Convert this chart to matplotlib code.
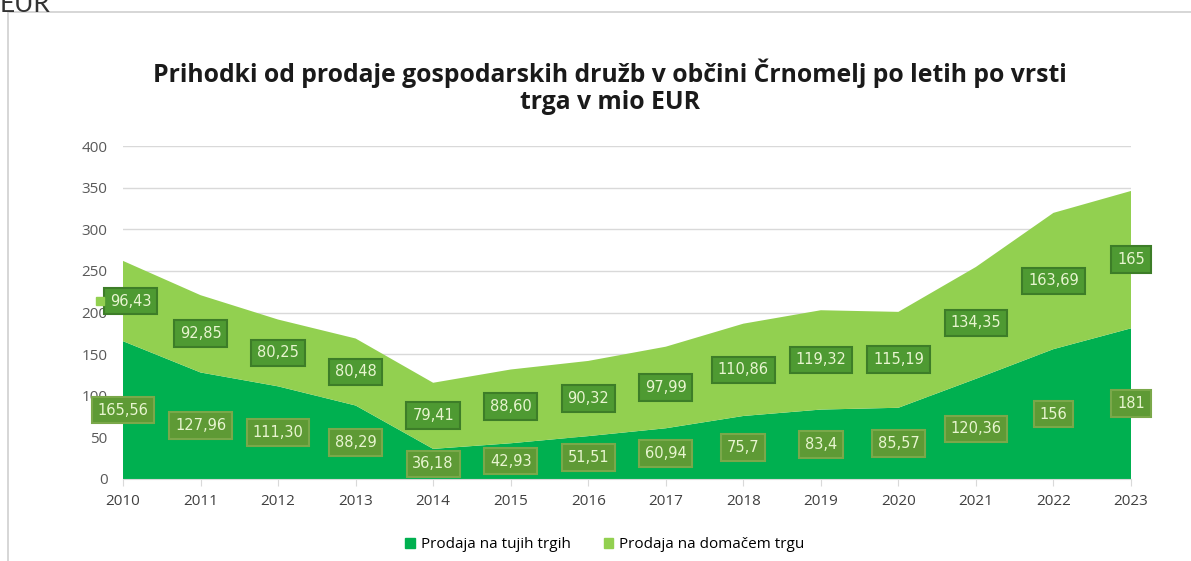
import matplotlib
matplotlib.use("Agg")
import matplotlib.pyplot as plt
import numpy as np
from matplotlib.lines import Line2D
from matplotlib.patches import Patch

years = [2010, 2011, 2012, 2013, 2014, 2015, 2016, 2017, 2018, 2019, 2020, 2021, 2022, 2023]
foreign = [165.56, 127.96, 111.30, 88.29, 36.18, 42.93, 51.51, 60.94, 75.7, 83.4, 85.57, 120.36, 156, 181]
domestic = [96.43, 92.85, 80.25, 80.48, 79.41, 88.60, 90.32, 97.99, 110.86, 119.32, 115.19, 134.35, 163.69, 165]
foreign_labels = ["165,56", "127,96", "111,30", "88,29", "36,18", "42,93", "51,51", "60,94",
                  "75,7", "83,4", "85,57", "120,36", "156", "181"]
domestic_labels = ["96,43", "92,85", "80,25", "80,48", "79,41", "88,60", "90,32", "97,99",
                   "110,86", "119,32", "115,19", "134,35", "163,69", "165"]
series_names = ["Prodaja na tujih trgih", "Prodaja na domačem trgu"]
title = "Prihodki od prodaje gospodarskih družb v občini Črnomelj po letih po vrsti\ntrga v mio EUR"

dark = "#00b050"
light = "#92d050"
FONT = "Open Sans"

fig = plt.figure(figsize=(11.91, 5.61), dpi=100)
fig.patch.set_facecolor("white")

# screenshot frame and cut-off text
fig.add_artist(Line2D([8/1191, 8/1191], [0, 1 - 12/561], color="#d0d0d0", lw=1.2))
fig.add_artist(Line2D([8/1191, 1], [1 - 12/561, 1 - 12/561], color="#d0d0d0", lw=1.2))
fig.text(0.0, 1 - 4/561, "EUR", fontsize=19, color="#333333", family="Lato", va="center", ha="left")

ax = fig.add_axes([123/1191, 1 - 479/561, (1131 - 123)/1191, (479 - 146)/561])
x = np.array(years)
f = np.array(foreign)
d = np.array(domestic)
ax.stackplot(x, f, d, colors=[dark, light], linewidth=0)

ax.set_xlim(2010, 2023)
ax.set_ylim(0, 400)
ax.set_yticks(np.arange(0, 401, 50))
ax.set_xticks(years)
ax.set_xticklabels([str(y) for y in years])
ax.grid(axis="y", color="#d9d9d9", lw=1)
ax.set_axisbelow(True)
for s in ["top", "right", "left"]:
    ax.spines[s].set_visible(False)
ax.spines["bottom"].set_color("#d9d9d9")
ax.tick_params(axis="y", length=0, pad=11, labelsize=11, labelcolor="#595959")
ax.tick_params(axis="x", length=5, color="#d9d9d9", pad=6, labelsize=11, labelcolor="#404040")
for lab in ax.get_xticklabels() + ax.get_yticklabels():
    lab.set_family(FONT)

for xi, fi, di, fl, dl in zip(x, f, d, foreign_labels, domestic_labels):
    ax.text(xi, fi / 2, fl, ha="center", va="center", fontsize=10.5, color="#e8f5d0",
            family="DejaVu Sans",
            bbox=dict(boxstyle="square,pad=0.4", fc="#5e9a35", ec="#7aa84a", lw=1.5))
    ax.text(xi + (0.1 if xi == 2010 else 0), fi + di / 2, dl, ha="center", va="center", fontsize=10.5,
            color="#e8f5d0", family="DejaVu Sans",
            bbox=dict(boxstyle="square,pad=0.4", fc="#4e9a32", ec="#3d7d28", lw=1.5))
# stray legend key in the first label
ax.plot([2010 - 0.3], [foreign[0] + domestic[0] / 2], marker="s", ms=6, color=light,
        clip_on=False, zorder=10)

fig.text(610/1191, 1 - 87/561, title, ha="center", va="center", fontsize=17.8,
         fontweight="bold", color="#1a1a1a", family=FONT, linespacing=1.1)

handles = [Patch(color=dark), Patch(color=light)]
fig.legend(handles, series_names, loc="center", bbox_to_anchor=(605/1191, 1 - 545/561), ncol=2,
           frameon=False, handlelength=0.6, handleheight=0.6, handletextpad=0.4,
           columnspacing=2.2, prop={"family": FONT, "size": 11})

fig.savefig("out.png", dpi=100, facecolor="white")
